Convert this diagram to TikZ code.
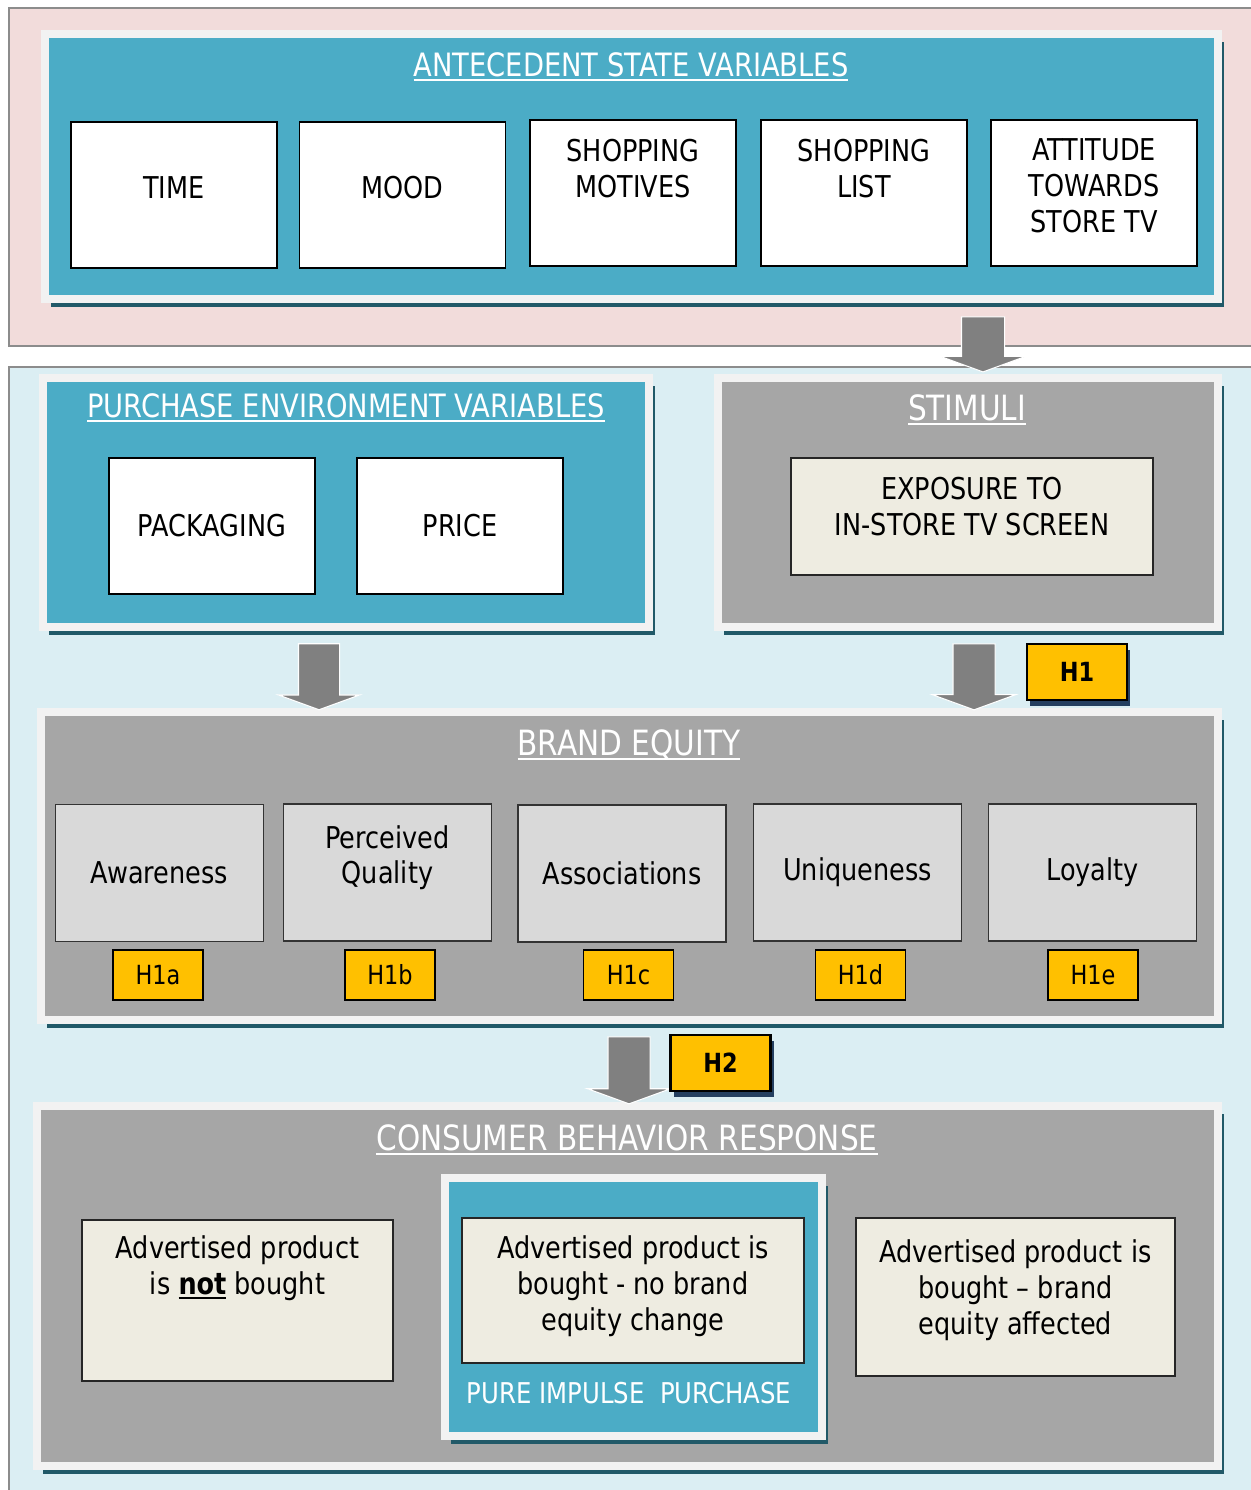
\documentclass[tikz,border=0pt]{standalone}
\usepackage{fontspec}
\setmainfont{DejaVu Sans}[FakeStretch=0.85]
\usetikzlibrary{shapes.arrows, shadows}

\definecolor{pinkbg}{HTML}{F2DCDB}
\definecolor{bluebg}{HTML}{DBEEF3}
\definecolor{panelteal}{HTML}{4BACC6}
\definecolor{framew}{HTML}{F2F2F2}
\definecolor{shadowc}{HTML}{215968}
\definecolor{panelgray}{HTML}{A6A6A6}
\definecolor{boxgray}{HTML}{D9D9D9}
\definecolor{cream}{HTML}{EEECE1}
\definecolor{gold}{HTML}{FFC000}
\definecolor{navy}{HTML}{243F60}
\definecolor{arrowgray}{HTML}{808080}
\definecolor{edgegray}{HTML}{8C8C8C}

% underline with a thicker rule
\newsavebox\undlbox
\newcommand{\undl}[1]{\sbox\undlbox{#1}\rlap{\rule[-2.6pt]{\wd\undlbox}{1pt}}\usebox\undlbox}

\begin{document}
\begin{tikzpicture}[
    x=0.2mm, y=-0.2mm,
    font=\fontsize{17.1}{20.3}\selectfont,
    every node/.style={align=center},
    backPanel/.style={rectangle, draw=edgegray, line width=0.8pt, fill=#1,
                minimum width=25.06cm},
    panel/.style={rectangle, draw=framew, line width=0.16cm, fill=#1,
                drop shadow={shadow xshift=0.12cm, shadow yshift=-0.16cm,
                             fill=shadowc, opacity=1}},
    titleS/.style={text=white, inner sep=0pt, font=\fontsize{18.3}{22}\selectfont},
    titleL/.style={text=white, inner sep=0pt, font=\fontsize{19.8}{23}\selectfont},
    wbox/.style={rectangle, draw, line width=1.1pt, fill=white,
                minimum width=4.12cm, minimum height=2.92cm},
    gbox/.style={rectangle, draw=black!80, line width=0.9pt, fill=boxgray,
                minimum width=4.16cm, minimum height=2.74cm},
    cbox/.style={rectangle, draw=black!85, line width=0.9pt, fill=cream},
    hlab/.style={rectangle, draw, line width=0.8pt, fill=gold,
                minimum width=1.8cm, minimum height=1cm,
                font=\fontsize{15}{18}\selectfont},
    hbig/.style={rectangle, draw, line width=1.4pt, fill=gold,
                minimum width=2cm, minimum height=1.12cm,
                font=\fontsize{15}{18}\selectfont\bfseries,
                drop shadow={shadow xshift=0.06cm, shadow yshift=-0.12cm,
                             fill=navy, opacity=1}},
    bigArrow/.style={single arrow, shape border rotate=270, fill=arrowgray,
                draw=white, line width=0.6pt, inner sep=#1,
                single arrow head extend=#1, single arrow tip angle=140}
  ]

  \useasboundingbox (0,0) rectangle (1250,1490);

  %% ---- backgrounds ----
  \node[backPanel=pinkbg, minimum height=6.76cm] (topbg) at (635.5,177) {};
  \node[backPanel=bluebg, minimum height=22.86cm] (lowbg) at (635.5,938.5) {};

  %% ---- antecedent state variables ----
  \node[panel=panelteal, minimum width=23.46cm, minimum height=5.3cm] (ante) at (631.5,166.5) {};
  \node[titleS] (anteT) at (631,67) {\undl{ANTECEDENT STATE VARIABLES}};
  \node[wbox] (time)     at (174,195)   {TIME\\[-12pt]~};
  \node[wbox] (mood)     at (402.5,195) {MOOD\\[-12pt]~};
  \node[wbox] (motives)  at (633,193)   {SHOPPING\\MOTIVES\\[8pt]~};
  \node[wbox] (list)     at (864,193)   {SHOPPING\\LIST\\[8pt]~};
  \node[wbox] (attitude) at (1094,193)  {ATTITUDE\\TOWARDS\\STORE TV\\[-12pt]~};

  %% ---- purchase environment ----
  \node[panel=panelteal, minimum width=12.12cm, minimum height=4.98cm] (envir) at (346,502.5) {};
  \node[titleS] (envirT) at (346,408) {\undl{PURCHASE ENVIRONMENT VARIABLES}};
  \node[wbox, minimum height=2.72cm] (packaging) at (212,526) {PACKAGING};
  \node[wbox, minimum height=2.72cm] (price)     at (460,526) {PRICE};

  %% ---- stimuli ----
  \node[panel=panelgray, minimum width=10cm, minimum height=4.98cm] (stim) at (968,502.5) {};
  \node[titleL] (stimT) at (967,410) {\undl{STIMULI}};
  \node[cbox, minimum width=7.24cm, minimum height=2.34cm] (exposure) at (972,516.5)
       {EXPOSURE TO\\IN-STORE TV SCREEN\\[-9pt]~};

  %% ---- brand equity ----
  \node[panel=panelgray, minimum width=23.54cm, minimum height=6.16cm] (brand) at (629.5,866) {};
  \node[titleL] (brandT) at (629,745) {\undl{BRAND EQUITY}};
  \node[gbox] (aware)   at (159.5,873)  {Awareness};
  \node[gbox] (quality) at (387.5,872.5) {Perceived\\Quality\\~};
  \node[gbox] (assoc)   at (622,873.5)  {Associations};
  \node[gbox] (unique)  at (857.5,872.5) {Uniqueness};
  \node[gbox] (loyal)   at (1092.5,872.5) {Loyalty};
  \node[hlab] (h1a) at (158,975)   {H1a};
  \node[hlab] (h1b) at (390,975)   {H1b};
  \node[hlab] (h1c) at (628.5,975) {H1c};
  \node[hlab] (h1d) at (860.5,975) {H1d};
  \node[hlab] (h1e) at (1093,975)  {H1e};

  %% ---- consumer behavior response ----
  \node[panel=panelgray, minimum width=23.62cm, minimum height=7.2cm] (resp) at (627.5,1286) {};
  \node[titleL] (respT) at (627,1140) {\undl{CONSUMER BEHAVIOR RESPONSE}};
  \node[cbox, minimum width=6.22cm, minimum height=3.22cm] (notbought) at (237.5,1300.5)
       {Advertised product\\is \undl{\textbf{not}} bought\\~\\~};
  \node[panel=panelteal, minimum width=7.54cm, minimum height=5.16cm] (impulse) at (633.5,1307) {};
  \node[cbox, minimum width=6.84cm, minimum height=2.9cm] (nochange) at (633,1290.5)
       {Advertised product is\\bought - no brand\\equity change\\[-12pt]~};
  \node[titleS, font=\fontsize{16.3}{20}\selectfont] (impulseT) at (629,1393) {PURE IMPULSE\ \ PURCHASE};
  \node[cbox, minimum width=6.38cm, minimum height=3.16cm] (affected) at (1015.5,1297)
       {Advertised product is\\bought -- brand\\equity affected\\[-9pt]~};

  %% ---- block arrows ----
  \node[bigArrow=0.42cm, minimum height=1.1cm]  (a1) at (983,340.5) {};
  \node[bigArrow=0.4cm, minimum height=1.32cm]  (a2) at (319,673) {};
  \node[bigArrow=0.41cm, minimum height=1.32cm] (a3) at (974,673) {};
  \node[bigArrow=0.41cm, minimum height=1.34cm] (a4) at (629,1066.5) {};

  %% ---- hypotheses ----
  \node[hbig] (h1) at (1077,672)   {H1};
  \node[hbig] (h2) at (720.5,1063) {H2};

\end{tikzpicture}
\end{document}
